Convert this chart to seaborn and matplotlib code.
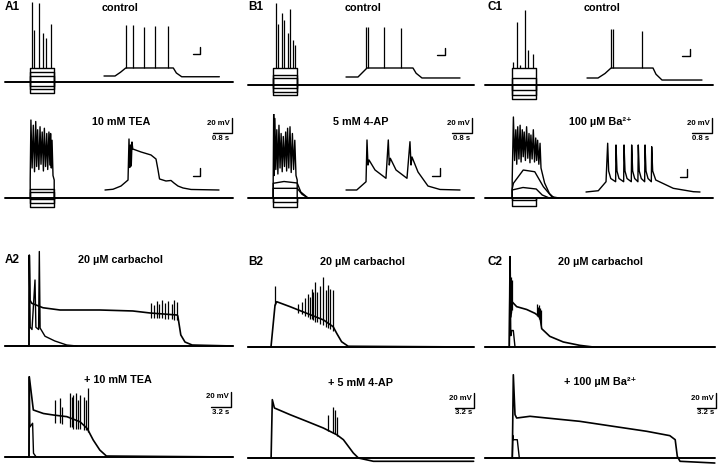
import numpy as np
import matplotlib
matplotlib.use('Agg')
import matplotlib.pyplot as plt
import seaborn as sns

sns.set_style('white')
plt.rcParams['font.family'] = ['Liberation Sans', 'DejaVu Sans']
plt.rcParams['text.color'] = 'black'

# time in s (insets in ms), voltage as deflection from rest in mV
step_on, step_off = 1.05, 2.05

# --- row 1: control step families ---
a1_steps = [18.7, 13.3, 8.0, -5.3, -9.3, -14.7]
a1_spk_t = [1.14, 1.22, 1.43, 1.57, 1.70, 1.90]
a1_spk_v = [107, 69, 105, 65, 59, 77]
b1_steps = [22.2, 13.3, 8.9, -4.4, -8.9, -13.3]
b1_spk_t = [1.15, 1.26, 1.40, 1.51, 1.65, 1.75, 1.86, 1.96]
b1_spk_v = [110, 82, 96, 87, 69, 102, 60, 53]
c1_steps = [22.2, 8.9, -6.7, -13.3, -19.0]
c1_spk_t = [1.10, 1.26, 1.375, 1.58, 1.70, 1.93]
c1_spk_v = [31, 84, 27, 100, 47, 42]

# control insets (ms)
a1_in_t = [0, 147, 220, 290, 924, 965, 1036, 1538]
a1_in_v = [0, 0, 5, 10.7, 10.7, 4, -1, -1]
a1_in_spk_t = [293, 387, 533, 680, 853]
a1_in_spk_v = [68, 68, 65.7, 66.7, 66.7]
b1_in_t = [0, 160, 220, 280, 893, 935, 1013, 1520]
b1_in_v = [0, 0, 6, 12, 12, 5, -1.3, -1.3]
b1_in_spk_t = [267, 287, 507, 733]
b1_in_spk_v = [66.7, 66.7, 66.7, 65.3]
c1_in_t = [0, 147, 240, 320, 880, 920, 1000, 1533]
c1_in_v = [0, 0, 6, 13.3, 13.3, 5, -2.7, -2.7]
c1_in_spk_t = [320, 340, 733]
c1_in_spk_v = [65.3, 65.3, 62.7]

# --- row 2: blockers ---
tea_steps = [11.6, 8.4, -1.8, -6.2, -11.6]
tea_burst_t = [1.05, 1.05, 1.08, 1.13, 1.18, 1.23, 1.28, 1.32, 1.36, 1.41, 1.46, 1.50, 1.55,
               1.60, 1.64, 1.69, 1.74, 1.78, 1.83, 1.87, 1.90, 1.93, 1.96, 2.0, 2.05, 2.05]
tea_burst_v = [0, 24, 104, 40, 97, 35, 102, 42, 91, 38, 95, 45, 88,
               36, 93, 42, 86, 38, 88, 44, 86, 40, 77, 30, 24, 0]
ap_steps = [-4.9, -11.6]
ap_sub1_t = [1.05, 1.05, 1.5, 2.05, 2.2, 2.5]
ap_sub1_v = [0, 19.6, 22, 20, 8, 0]
ap_sub2_t = [1.05, 1.05, 2.05, 2.25, 2.5]
ap_sub2_v = [0, 12.9, 12.9, 5, 0]
ap_burst_t = [1.05, 1.05, 1.07, 1.095, 1.12, 1.16, 1.20, 1.245, 1.29, 1.335, 1.38, 1.425, 1.47,
              1.52, 1.57, 1.61, 1.65, 1.70, 1.75, 1.80, 1.85, 1.90, 1.95, 2.0, 2.05, 2.05]
ap_burst_v = [0, 24, 113, 30, 106, 38, 91, 32, 97, 40, 86, 35, 82,
              42, 88, 36, 93, 40, 95, 34, 86, 38, 77, 30, 24, 0]
ba_steps = [-2.7, -10.7]
ba_sub1_t = [1.05, 1.05, 1.10, 1.51, 1.99, 2.35, 2.70, 3.0]
ba_sub1_v = [0, 12, 19.6, 37.3, 35, 15, 1.7, 0]
ba_sub2_t = [1.05, 1.05, 1.5, 2.05, 2.3, 2.6]
ba_sub2_v = [0, 10.7, 14, 12, 4, 0]
ba_burst_t = [1.05, 1.05, 1.10, 1.15, 1.20, 1.24, 1.28, 1.33, 1.38, 1.42, 1.47, 1.51, 1.55, 1.60,
              1.65, 1.70, 1.75, 1.79, 1.83, 1.88, 1.93, 1.98, 2.03, 2.07, 2.11, 2.16, 2.21, 2.25,
              2.4, 2.6, 2.8]
ba_burst_v = [0, 24, 108, 50, 91, 45, 95, 52, 97, 48, 91, 55, 88, 50,
              95, 53, 86, 47, 84, 52, 91, 48, 80, 50, 77, 45, 73, 40,
              20, 6, 0]

tea_in_t = [0, 107, 213, 307, 320, 330, 340, 350, 360, 370, 480, 613, 680, 707, 727, 813, 880,
            920, 973, 1040, 1147, 1520]
tea_in_v = [0, 1, 5.3, 13.3, 68, 30, 60, 32, 64, 54.7, 50.7, 46.7, 41.3, 26.7, 14.7, 12, 12.7,
            9.3, 5.3, 2.7, 0.7, 0]
ap_in_t = [0, 143, 267, 280, 293, 307, 387, 533, 564, 577, 591, 667, 813, 853, 867, 880, 960,
           1093, 1253, 1520]
ap_in_v = [0, 0, 11, 66.7, 33.3, 40, 26.7, 15.6, 66.7, 33.3, 42.3, 26.7, 15.6, 64.4, 33.3, 44,
           24, 5.3, 0.7, 0]
ba_in_t = [0, 164, 267, 289, 302, 330, 395, 400, 413, 440, 502, 507, 520, 547, 604, 609, 622,
           649, 692, 697, 710, 737, 782, 787, 800, 827, 871, 876, 889, 930, 1164, 1431, 1520]
ba_in_v = [0, 1.7, 13.7, 65, 28, 18, 13.7, 62.7, 28, 18, 13.7, 62.7, 28, 18, 13.7, 62.7, 28,
           18, 13.7, 62.7, 28, 18, 13.7, 62.7, 28, 18, 13.7, 60.4, 28, 16, 4.9, 0.4, 0]

# --- carbachol plateaus (s) ---
a2_t = [0, 4.0, 4.05, 4.17, 4.45, 6.33, 9.17, 15.8, 21.3, 24.2, 28.7, 28.8, 29.3, 30.0, 31.2, 38]
a2_v = [0, 0, 121, 61, 57, 51, 48, 48, 46.7, 44, 41.3, 40, 14.7, 5.3, 1.3, 0]
a2_spk_t = [24.4, 24.8, 25.3, 25.7, 26.2, 26.7, 27.2, 27.8, 28.2, 28.6]
a2_spk_lo = [38, 38, 37, 37, 37, 36, 36, 36, 35, 35]
a2_spk_hi = [57, 55, 60, 56, 61, 58, 60, 56, 61, 59]
a2_short_t = [4.0, 4.05, 4.2, 4.5, 5.0, 5.15, 5.6, 5.72, 5.85, 6.67, 8.3, 10.3, 12]
a2_short_v = [0, 121, 25, 22, 88, 25, 22, 126, 24, 13, 6.7, 1.3, 0]

tea2_t = [0, 4.0, 4.05, 4.72, 6.4, 8.05, 10.3, 12.5, 13.7, 14.7, 15.8, 16.9, 38]
tea2_v = [0, 0, 107, 62.7, 58, 56, 53.8, 47, 38, 22.7, 9.3, 1.3, 0]
tea2_spk_t = [8.33, 9.17, 9.45, 10.8, 11.1, 11.4, 11.8, 12.2, 12.5, 13.1, 13.5, 13.9]
tea2_spk_lo = [45, 45, 44, 40, 40, 38, 38, 38, 38, 36, 36, 34]
tea2_spk_hi = [76, 78.7, 67, 85, 80.4, 82.7, 85, 76, 82.7, 80.4, 76, 91.6]
tea2_short_t = [4.0, 4.05, 4.15, 4.6, 4.75, 5.2]
tea2_short_v = [0, 107, 40, 45, 5, 0]

b2_t = [0, 3.83, 4.5, 4.78, 7.0, 9.8, 12.6, 14.2, 14.8, 15.6, 16.7, 37.6]
b2_v = [0, 0, 55.6, 60.4, 53.8, 44.9, 36, 27, 18, 7, 1, 0]
b2_spk_t = [4.5, 8.38, 8.95, 9.5, 10.05, 10.33, 10.6, 10.9, 11.2, 11.55, 12.0, 12.55, 13.0,
            13.4, 13.7, 14.2]
b2_spk_lo = [56, 46, 44, 42, 40, 38, 37, 36, 34, 33, 31, 29, 27, 26, 24, 22]
b2_spk_hi = [82, 58, 60, 65, 71, 67, 78, 73, 87, 73, 82, 94, 76, 82.7, 78, 76]

ap2_t = [0, 3.85, 4.05, 4.4, 7.0, 9.8, 12.55, 14.8, 15.9, 17.55, 18.4, 20.9, 37.6]
ap2_v = [0, 0, 77.8, 66.7, 57.8, 48.9, 40, 31, 24.4, 6.7, 0, -4.4, -4.4]
ap2_spk_t = [13.4, 14.2, 14.5, 14.8]
ap2_spk_lo = [36, 33, 32, 30]
ap2_spk_hi = [57.8, 68.4, 64, 55]

c2_t = [0, 4.05, 4.17, 4.3, 4.55, 5.28, 6.95, 8.33, 9.17, 9.45, 10.8, 13.05, 15.8, 18.05, 38.3]
c2_v = [0, 0, 120.4, 40, 60, 53.8, 50, 44.9, 40, 24.4, 14.2, 6.7, 2.2, 0, 0]
c2_spk_t = [4.3, 4.42, 8.6, 8.8, 8.95, 9.17, 9.35]
c2_spk_lo = [45, 50, 42, 40, 38, 36, 30]
c2_spk_hi = [93, 89, 58, 53.8, 56, 51.6, 49.3]
c2_short_t = [4.05, 4.17, 4.3, 4.45, 4.72, 5.0]
c2_short_v = [0, 120.4, 15, 22, 22, 0]

ba2_t = [0, 4.55, 4.72, 5.0, 5.28, 7.5, 10.3, 15.8, 21.4, 26.95, 30.8, 31.7, 32.05, 32.5, 38.3]
ba2_v = [0, 0, 111, 57.8, 53.3, 55.6, 53.3, 48.9, 42.2, 35.6, 29.8, 24.4, 2.2, -4.4, -6.7]
ba2_short_t = [4.55, 4.65, 4.72, 5.38, 5.72]
ba2_short_v = [0, 30, 24.4, 24.4, 0]

W, H = 720, 470
fig = plt.figure(figsize=(W / 100, H / 100), dpi=100)
panels = []


def make_ax(x0, y0, sx, sy, tlim, vlim):
    # x0, y0: pixel of (t=0, dV=0); sx, sy: pixels per unit
    left = x0 + tlim[0] * sx
    top = y0 - vlim[1] * sy
    w = (tlim[1] - tlim[0]) * sx
    h = (vlim[1] - vlim[0]) * sy
    ax = fig.add_axes([left / W, 1 - (top + h) / H, w / W, h / H])
    ax.patch.set_visible(False)
    panels.append((ax, tlim, vlim))
    return ax


def tr(ax, t, v, lw=1.0):
    sns.lineplot(x=np.asarray(t, float), y=np.asarray(v, float), ax=ax,
                 sort=False, estimator=None, color='k', linewidth=lw)


def spikes(ax, t, lo, hi, lw=0.9):
    ax.vlines(t, lo, hi, colors='k', lw=lw)


def lbar(ax, t, v, dt, dv, lw=1.0):
    tr(ax, [t - dt, t, t], [v, v, v + dv], lw=lw)


def label(x, y, s, size=8, weight='normal', ha='center'):
    fig.text(x / W, 1 - y / H, s, fontsize=size, fontweight=weight, ha=ha, va='center',
             color='black')


def steps(ax, base_t, levels):
    tr(ax, base_t, [0, 0], lw=1.4)
    for lv in levels:
        tr(ax, [step_on, step_on, step_off, step_off], [0, lv, lv, 0])


TL, VL = (-0.3, 9.8), (-25, 112)
ITL, IVL = (-50, 1600), (-10, 75)
BTL, BVL = (-0.5, 39.5), (-15, 130)

# row 1 control
for x0, y0, st, stt, stv, bt in [
        (5, 82, a1_steps, a1_spk_t, a1_spk_v, [0, 9.5]),
        (248, 85, b1_steps, b1_spk_t, b1_spk_v, [0, 9.4]),
        (487, 85, c1_steps, c1_spk_t, c1_spk_v, [-0.1, 9.4])]:
    ax = make_ax(x0, y0, 24, 0.75, TL, VL)
    steps(ax, bt, st)
    spikes(ax, stt, st[0], stv)

for x0, y0, it, iv, ist, isv, corner in [
        (104, 76, a1_in_t, a1_in_v, a1_in_spk_t, a1_in_spk_v, (1280, 28.7)),
        (346, 77, b1_in_t, b1_in_v, b1_in_spk_t, b1_in_spk_v, (1320, 29.3)),
        (587, 78, c1_in_t, c1_in_v, c1_in_spk_t, c1_in_spk_v, (1373, 29.3))]:
    ax = make_ax(x0, y0, 0.075, 0.75, ITL, IVL)
    tr(ax, it, iv)
    spikes(ax, ist, max(iv), isv)
    lbar(ax, corner[0], corner[1], 100, 10)

# row 2 blockers
ax = make_ax(5, 198, 24, 0.75, TL, VL)
steps(ax, [0, 9.5], tea_steps)
tr(ax, tea_burst_t, tea_burst_v, 1.0)
lbar(ax, 9.45, 86.7, 0.8, 20)

ax = make_ax(248, 198, 24, 0.75, TL, VL)
steps(ax, [0, 9.4], ap_steps)
tr(ax, ap_sub1_t, ap_sub1_v)
tr(ax, ap_sub2_t, ap_sub2_v)
tr(ax, ap_burst_t, ap_burst_v, 1.0)
lbar(ax, 9.32, 86.7, 0.8, 20)

ax = make_ax(487, 198, 24, 0.75, TL, VL)
steps(ax, [-0.1, 9.4], ba_steps)
tr(ax, ba_sub1_t, ba_sub1_v)
tr(ax, ba_sub2_t, ba_sub2_v)
tr(ax, ba_burst_t, ba_burst_v, 1.0)
lbar(ax, 9.36, 86.7, 0.8, 20)

for x0, y0, it, iv, corner in [(105, 190, tea_in_t, tea_in_v, (1267, 19.3)),
                               (346, 190, ap_in_t, ap_in_v, (1253, 19.3)),
                               (586, 192, ba_in_t, ba_in_v, (1347, 20))]:
    ax = make_ax(x0, y0, 0.075, 0.75, ITL, IVL)
    tr(ax, it, iv)
    lbar(ax, corner[0], corner[1], 100, 10)

# carbachol
ax = make_ax(5, 346, 6, 0.75, BTL, BVL)
tr(ax, [0, 38], [0, 0], 1.4)
tr(ax, a2_t, a2_v, 1.2)
tr(ax, a2_short_t, a2_short_v)
spikes(ax, a2_spk_t, a2_spk_lo, a2_spk_hi)

ax = make_ax(5, 457, 6, 0.75, BTL, BVL)
tr(ax, [0, 38], [0, 0], 1.4)
tr(ax, tea2_t, tea2_v, 1.2)
tr(ax, tea2_short_t, tea2_short_v)
spikes(ax, tea2_spk_t, tea2_spk_lo, tea2_spk_hi)
lbar(ax, 37.6, 66.7, 3.2, 20)

ax = make_ax(248, 347, 6, 0.75, BTL, BVL)
tr(ax, [0, 37.6], [0, 0], 1.4)
tr(ax, b2_t, b2_v, 1.2)
spikes(ax, b2_spk_t, b2_spk_lo, b2_spk_hi)

ax = make_ax(248, 458, 6, 0.75, BTL, BVL)
tr(ax, [0, 37.6], [0, 0], 1.4)
tr(ax, ap2_t, ap2_v, 1.2)
spikes(ax, ap2_spk_t, ap2_spk_lo, ap2_spk_hi)
lbar(ax, 37.7, 66.7, 3.2, 20)

ax = make_ax(485, 347, 6, 0.75, BTL, BVL)
tr(ax, [0, 38.3], [0, 0], 1.4)
tr(ax, c2_t, c2_v, 1.2)
tr(ax, c2_short_t, c2_short_v)
spikes(ax, c2_spk_t, c2_spk_lo, c2_spk_hi)

ax = make_ax(485, 458, 6, 0.75, BTL, BVL)
tr(ax, [0, 38.3], [0, 0], 1.4)
tr(ax, ba2_t, ba2_v, 1.2)
tr(ax, ba2_short_t, ba2_short_v)
lbar(ax, 38.5, 66.7, 3.2, 20)

for ax, tl, vl in panels:
    ax.set_xlim(tl)
    ax.set_ylim(vl)
    ax.axis('off')

# text
for x, y, s in [(5, 7, 'A1'), (248, 7, 'B1'), (488, 7, 'C1'),
                (5, 260, 'A2'), (248, 262, 'B2'), (488, 262, 'C2')]:
    label(x, y, s, 8.5, 'bold', 'left')
for x, y, s in [(120, 8, 'control'), (363, 8, 'control'), (602, 8, 'control'),
                (121, 122, '10 mM TEA'), (361, 122, '5 mM 4-AP'), (600, 122, '100 µM Ba²⁺'),
                (120, 260, '20 µM carbachol'), (362, 262, '20 µM carbachol'),
                (601, 262, '20 µM carbachol'),
                (118, 380, '+ 10 mM TEA'), (361, 383, '+ 5 mM 4-AP'),
                (600, 382, '+ 100 µM Ba²⁺')]:
    label(x, y, s, 7.8, 'bold')
for x, y, s in [(230, 124, '20 mV'), (470, 124, '20 mV'), (710, 124, '20 mV'),
                (229, 396, '20 mV'), (472, 398, '20 mV'), (714, 398, '20 mV')]:
    label(x, y, s, 5.6, 'bold', 'right')
for x, y, s in [(221, 138, '0.8 s'), (462, 138, '0.8 s'), (701, 138, '0.8 s'),
                (221, 412, '3.2 s'), (464, 413, '3.2 s'), (706, 413, '3.2 s')]:
    label(x, y, s, 5.6, 'bold', 'center')

fig.savefig('out.png', dpi=100)
